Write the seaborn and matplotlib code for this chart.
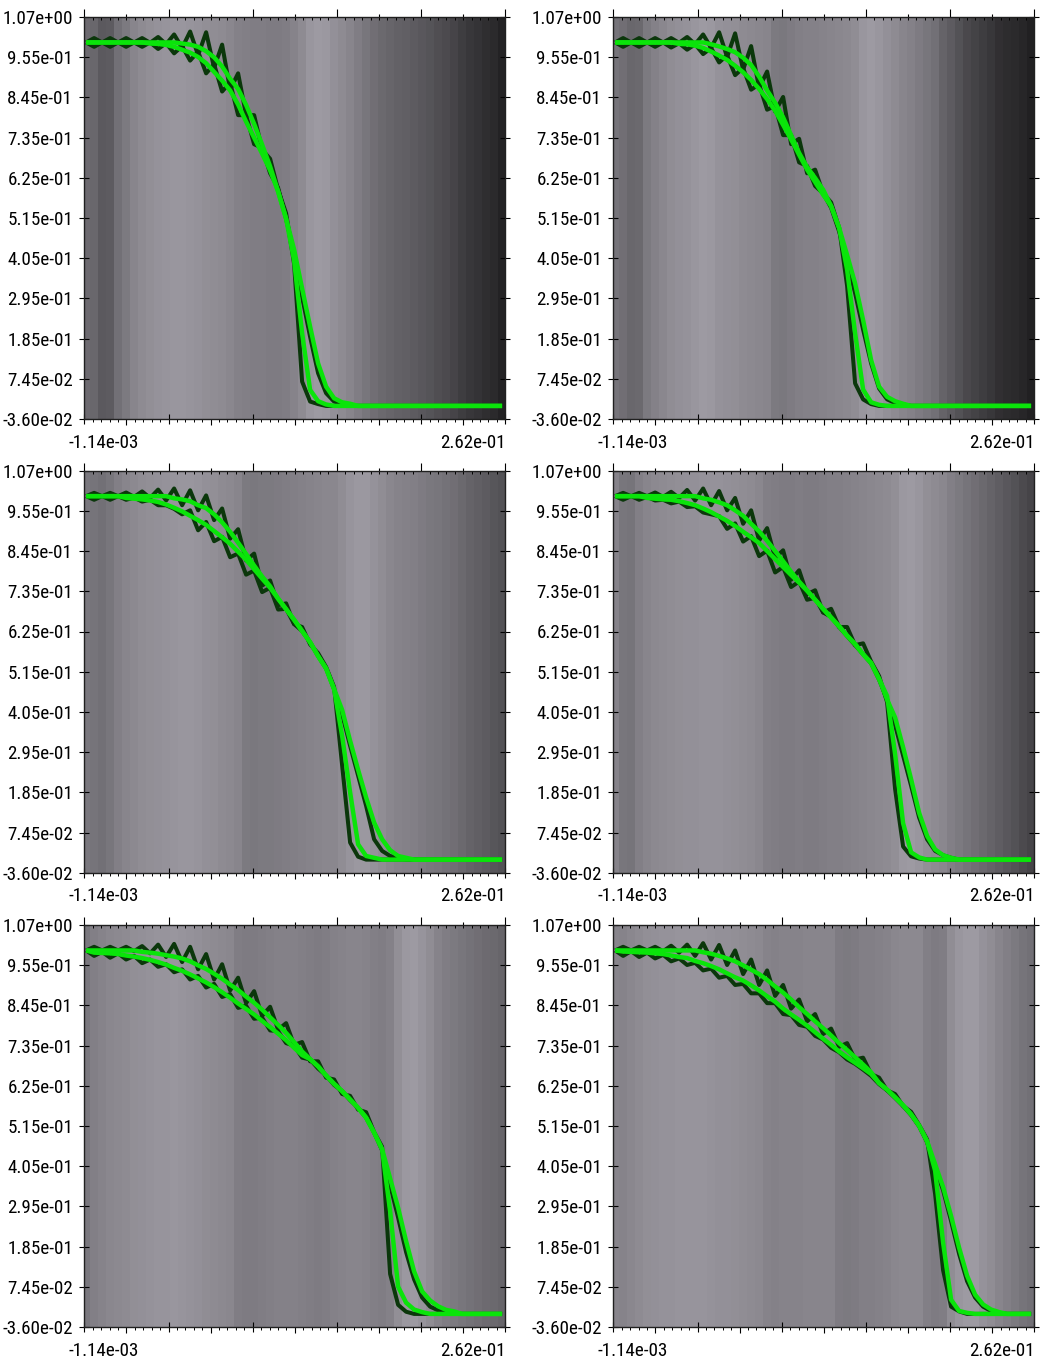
import os
import numpy as np
import pandas as pd
import matplotlib
matplotlib.use("Agg")
import matplotlib.pyplot as plt
import seaborn as sns
from matplotlib.colors import LinearSegmentedColormap
from matplotlib.transforms import ScaledTranslation
from matplotlib import font_manager
from matplotlib.font_manager import FontProperties
from matplotlib.textpath import TextPath

sns.set_theme(style="white")
plt.rcParams["font.family"] = ["Liberation Sans", "DejaVu Sans"]

# pick a narrow font file if one is installed
_files = font_manager.findSystemFonts()
_pref = ["LiberationSansNarrow-Regular", "RobotoCondensed-Regular", "Roboto_Condensed-Regular",
         "DejaVuSansCondensed", "NotoSans-CondensedRegular", "NotoSans-Condensed",
         "OpenSans-CondensedRegular", "OpenSans_Condensed-Regular", "LiberationSans-Regular"]
FP = None
for key in _pref:
    hits = [f for f in _files if os.path.splitext(os.path.basename(f))[0] == key]
    if hits:
        FP = FontProperties(fname=hits[0])
        break
if FP is None:
    FP = FontProperties(family=["Liberation Sans", "DejaVu Sans"])

# size the label font so that "9.55e-01" is ~61 px wide and digits <= 15 px tall
_ext = TextPath((0, 0), "9.55e-01", size=100, prop=FP).get_extents()
_s_w = 61 * 0.72 * 100 / _ext.width
_s_h = 15 * 0.72 * 100 / _ext.height
FS = min(_s_w, _s_h)
FP.set_size(FS)

# ---------------- data ----------------
X_MIN, X_MAX = -1.14e-03, 2.62e-01
Y_MIN, Y_MAX = -3.60e-02, 1.07e+00
Y_LABELS = ["-3.60e-02", "7.45e-02", "1.85e-01", "2.95e-01", "4.05e-01", "5.15e-01",
            "6.25e-01", "7.35e-01", "8.45e-01", "9.55e-01", "1.07e+00"]
X_LABELS = ["-1.14e-03", "2.62e-01"]

X_CELLS = [0.000, 0.005, 0.010, 0.015, 0.020, 0.025, 0.030, 0.035, 0.040, 0.045,
           0.050, 0.055, 0.060, 0.065, 0.070, 0.075, 0.080, 0.085, 0.090, 0.095,
           0.100, 0.105, 0.110, 0.115, 0.120, 0.125, 0.130, 0.135, 0.140, 0.145,
           0.150, 0.155, 0.160, 0.165, 0.170, 0.175, 0.180, 0.185, 0.190, 0.195,
           0.200, 0.205, 0.210, 0.215, 0.220, 0.225, 0.230, 0.235, 0.240, 0.245,
           0.250, 0.255, 0.260]

# ----- row 1, left -----
r1l_g1 = [1.000, 1.000, 1.000, 1.000, 1.000, 1.000, 1.000, 1.000, 1.000, 1.000,
          1.000, 1.000, 0.997, 0.994, 0.988, 0.976, 0.959, 0.934, 0.900, 0.872,
          0.828, 0.776, 0.719, 0.659, 0.590, 0.515, 0.400, 0.200, 0.044, 0.013,
          0.004, 0.0, 0.0, 0.0, 0.0, 0.0, 0.0, 0.0, 0.0, 0.0,
          0.0, 0.0, 0.0, 0.0, 0.0, 0.0, 0.0, 0.0, 0.0, 0.0,
          0.0, 0.0, 0.0]
r1l_g2 = [1.000, 1.000, 1.000, 1.000, 1.000, 1.000, 1.000, 1.000, 0.997, 0.996,
          0.993, 0.988, 0.980, 0.972, 0.960, 0.943, 0.919, 0.895, 0.868, 0.829,
          0.782, 0.738, 0.694, 0.648, 0.590, 0.515, 0.430, 0.323, 0.218, 0.117,
          0.053, 0.021, 0.010, 0.006, 0.0, 0.0, 0.0, 0.0, 0.0, 0.0,
          0.0, 0.0, 0.0, 0.0, 0.0, 0.0, 0.0, 0.0, 0.0, 0.0,
          0.0, 0.0, 0.0]
r1l_a = [1.000, 1.012, 1.000, 1.012, 1.000, 1.012, 1.000, 1.012, 0.999, 1.015,
         0.995, 1.022, 0.985, 1.030, 0.965, 1.028, 0.930, 0.994, 0.870, 0.915,
         0.800, 0.800, 0.705, 0.680, 0.595, 0.530, 0.390, 0.067, 0.012, 0.005,
         0.0, 0.0, 0.0, 0.0, 0.0, 0.0, 0.0, 0.0, 0.0, 0.0,
         0.0, 0.0, 0.0, 0.0, 0.0, 0.0, 0.0, 0.0, 0.0, 0.0,
         0.0, 0.0, 0.0]
r1l_b = [1.000, 0.988, 1.000, 0.988, 1.000, 0.988, 1.000, 0.988, 1.000, 0.982,
         0.998, 0.970, 0.990, 0.950, 0.975, 0.915, 0.940, 0.865, 0.890, 0.800,
         0.800, 0.720, 0.710, 0.640, 0.600, 0.515, 0.420, 0.300, 0.190, 0.090,
         0.035, 0.012, 0.006, 0.0, 0.0, 0.0, 0.0, 0.0, 0.0, 0.0,
         0.0, 0.0, 0.0, 0.0, 0.0, 0.0, 0.0, 0.0, 0.0, 0.0,
         0.0, 0.0, 0.0]
r1l_bg = [112, 108, 94, 96, 118, 128, 140, 146, 150, 154,
          156, 158, 158, 156, 154, 150, 148, 146, 142, 136,
          134, 132, 132, 130, 130, 132, 138, 146, 158, 162,
          160, 152, 146, 140, 132, 124, 116, 110, 106, 102,
          100, 96, 92, 88, 82, 78, 72, 64, 58, 54,
          48, 44, 36]

# ----- row 1, right -----
r1r_g1 = [1.000, 1.000, 1.000, 1.000, 1.000, 1.000, 1.000, 1.000, 1.000, 1.000,
          1.000, 1.000, 0.995, 0.989, 0.982, 0.973, 0.958, 0.938, 0.906, 0.868,
          0.834, 0.794, 0.745, 0.696, 0.657, 0.627, 0.595, 0.550, 0.490, 0.375,
          0.200, 0.045, 0.010, 0.003, 0.0, 0.0, 0.0, 0.0, 0.0, 0.0,
          0.0, 0.0, 0.0, 0.0, 0.0, 0.0, 0.0, 0.0, 0.0, 0.0,
          0.0, 0.0, 0.0]
r1r_g2 = [1.000, 1.000, 1.000, 1.000, 1.000, 1.000, 1.000, 1.000, 0.996, 0.995,
          0.991, 0.985, 0.975, 0.964, 0.952, 0.936, 0.918, 0.897, 0.872, 0.844,
          0.812, 0.773, 0.733, 0.691, 0.650, 0.616, 0.581, 0.550, 0.490, 0.415,
          0.337, 0.236, 0.126, 0.053, 0.025, 0.013, 0.006, 0.0, 0.0, 0.0,
          0.0, 0.0, 0.0, 0.0, 0.0, 0.0, 0.0, 0.0, 0.0, 0.0,
          0.0, 0.0, 0.0]
r1r_a = [1.000, 1.012, 1.000, 1.012, 1.000, 1.012, 1.000, 1.012, 0.999, 1.015,
         0.995, 1.022, 0.985, 1.028, 0.960, 1.025, 0.925, 0.990, 0.875, 0.920,
         0.810, 0.850, 0.720, 0.735, 0.640, 0.650, 0.585, 0.560, 0.490, 0.330,
         0.062, 0.018, 0.005, 0.0, 0.0, 0.0, 0.0, 0.0, 0.0, 0.0,
         0.0, 0.0, 0.0, 0.0, 0.0, 0.0, 0.0, 0.0, 0.0, 0.0,
         0.0, 0.0, 0.0]
r1r_b = [1.000, 0.988, 1.000, 0.988, 1.000, 0.988, 1.000, 0.986, 0.998, 0.980,
         0.995, 0.968, 0.985, 0.945, 0.965, 0.910, 0.930, 0.870, 0.885, 0.815,
         0.825, 0.745, 0.745, 0.670, 0.660, 0.605, 0.585, 0.545, 0.480, 0.400,
         0.310, 0.210, 0.117, 0.048, 0.018, 0.008, 0.004, 0.0, 0.0, 0.0,
         0.0, 0.0, 0.0, 0.0, 0.0, 0.0, 0.0, 0.0, 0.0, 0.0,
         0.0, 0.0, 0.0]
r1r_bg = [122, 116, 108, 110, 128, 136, 142, 148, 152, 154,
          158, 162, 160, 154, 152, 150, 146, 144, 142, 140,
          128, 126, 130, 134, 136, 136, 138, 140, 142, 144,
          148, 158, 162, 158, 152, 146, 140, 136, 130, 124,
          118, 104, 96, 86, 76, 70, 64, 58, 50, 46,
          44, 40, 34]

# ----- row 2, left -----
r2l_g1 = [1.000, 1.000, 1.000, 1.000, 1.000, 1.000, 1.000, 1.000, 1.000, 1.000,
          1.000, 0.994, 0.991, 0.986, 0.975, 0.967, 0.950, 0.928, 0.902, 0.872,
          0.841, 0.809, 0.779, 0.752, 0.718, 0.689, 0.660, 0.629, 0.598, 0.560,
          0.526, 0.469, 0.341, 0.185, 0.042, 0.010, 0.005, 0.0, 0.0, 0.0,
          0.0, 0.0, 0.0, 0.0, 0.0, 0.0, 0.0, 0.0, 0.0, 0.0,
          0.0, 0.0, 0.0]
r2l_g2 = [1.000, 1.000, 1.000, 1.000, 1.000, 0.995, 0.993, 0.991, 0.988, 0.984,
          0.977, 0.968, 0.958, 0.946, 0.934, 0.921, 0.904, 0.887, 0.869, 0.847,
          0.825, 0.799, 0.773, 0.748, 0.718, 0.689, 0.660, 0.629, 0.598, 0.560,
          0.526, 0.469, 0.412, 0.327, 0.247, 0.171, 0.102, 0.056, 0.026, 0.010,
          0.005, 0.0, 0.0, 0.0, 0.0, 0.0, 0.0, 0.0, 0.0, 0.0,
          0.0, 0.0, 0.0]
r2l_a = [1.000, 1.009, 1.000, 1.009, 1.000, 1.010, 0.998, 1.013, 0.995, 1.018,
         0.988, 1.021, 0.975, 1.016, 0.961, 1.002, 0.934, 0.966, 0.883, 0.909,
         0.823, 0.842, 0.754, 0.768, 0.700, 0.705, 0.648, 0.640, 0.592, 0.568,
         0.530, 0.475, 0.260, 0.047, 0.008, 0.0, 0.0, 0.0, 0.0, 0.0,
         0.0, 0.0, 0.0, 0.0, 0.0, 0.0, 0.0, 0.0, 0.0, 0.0,
         0.0, 0.0, 0.0]
r2l_b = [1.000, 0.990, 1.000, 0.990, 1.000, 0.990, 0.996, 0.985, 0.990, 0.975,
         0.975, 0.965, 0.950, 0.961, 0.906, 0.929, 0.876, 0.888, 0.832, 0.842,
         0.784, 0.795, 0.736, 0.748, 0.688, 0.690, 0.648, 0.629, 0.598, 0.560,
         0.526, 0.469, 0.400, 0.313, 0.231, 0.148, 0.056, 0.024, 0.010, 0.005,
         0.0, 0.0, 0.0, 0.0, 0.0, 0.0, 0.0, 0.0, 0.0, 0.0,
         0.0, 0.0, 0.0]
r2l_bg = [126, 122, 118, 124, 134, 140, 144, 148, 150, 152,
          154, 156, 158, 158, 156, 152, 150, 146, 144, 140,
          128, 126, 128, 128, 130, 132, 134, 136, 138, 140,
          142, 142, 148, 156, 160, 160, 154, 148, 142, 138,
          136, 134, 130, 126, 124, 120, 116, 110, 104, 100,
          96, 90, 86]

# ----- row 2, right -----
r2r_g1 = [1.000, 1.000, 1.000, 1.000, 1.000, 1.000, 1.000, 1.000, 1.000, 1.000,
          1.000, 0.994, 0.990, 0.983, 0.975, 0.961, 0.946, 0.924, 0.903, 0.877,
          0.849, 0.821, 0.792, 0.765, 0.740, 0.715, 0.690, 0.666, 0.642, 0.616,
          0.593, 0.565, 0.541, 0.497, 0.450, 0.290, 0.100, 0.020, 0.006, 0.0,
          0.0, 0.0, 0.0, 0.0, 0.0, 0.0, 0.0, 0.0, 0.0, 0.0,
          0.0, 0.0, 0.0]
r2r_g2 = [1.000, 1.000, 1.000, 1.000, 0.995, 0.993, 0.991, 0.990, 0.986, 0.981,
          0.975, 0.966, 0.956, 0.944, 0.932, 0.918, 0.902, 0.887, 0.871, 0.849,
          0.827, 0.805, 0.783, 0.762, 0.740, 0.715, 0.690, 0.666, 0.642, 0.616,
          0.593, 0.565, 0.541, 0.497, 0.440, 0.391, 0.309, 0.221, 0.129, 0.065,
          0.028, 0.012, 0.005, 0.0, 0.0, 0.0, 0.0, 0.0, 0.0, 0.0,
          0.0, 0.0, 0.0]
r2r_a = [1.000, 1.009, 1.000, 1.009, 1.000, 1.010, 0.998, 1.012, 0.995, 1.017,
         0.988, 1.021, 0.975, 1.014, 0.961, 0.995, 0.924, 0.961, 0.878, 0.912,
         0.830, 0.851, 0.770, 0.796, 0.730, 0.741, 0.680, 0.690, 0.640, 0.640,
         0.590, 0.595, 0.545, 0.505, 0.433, 0.194, 0.036, 0.009, 0.003, 0.0,
         0.0, 0.0, 0.0, 0.0, 0.0, 0.0, 0.0, 0.0, 0.0, 0.0,
         0.0, 0.0, 0.0]
r2r_b = [1.000, 0.990, 1.000, 0.990, 0.998, 0.988, 0.990, 0.980, 0.985, 0.970,
         0.972, 0.955, 0.950, 0.945, 0.910, 0.925, 0.875, 0.890, 0.835, 0.850,
         0.790, 0.805, 0.750, 0.765, 0.715, 0.720, 0.680, 0.668, 0.640, 0.615,
         0.590, 0.565, 0.540, 0.495, 0.440, 0.370, 0.286, 0.203, 0.116, 0.056,
         0.024, 0.012, 0.005, 0.0, 0.0, 0.0, 0.0, 0.0, 0.0, 0.0,
         0.0, 0.0, 0.0]
r2r_bg = [138, 124, 122, 134, 140, 144, 146, 148, 150, 152,
          152, 154, 154, 154, 152, 150, 148, 146, 142, 134,
          132, 130, 130, 132, 130, 130, 132, 134, 134, 136,
          138, 140, 142, 144, 146, 150, 160, 162, 158, 150,
          146, 142, 134, 128, 122, 116, 110, 104, 98, 92,
          86, 78, 72]

# ----- row 3, left -----
r3l_g1 = [1.000, 1.000, 1.000, 1.000, 1.000, 1.000, 1.000, 0.996, 0.994, 0.991,
          0.987, 0.983, 0.978, 0.970, 0.959, 0.949, 0.936, 0.922, 0.906, 0.891,
          0.873, 0.856, 0.837, 0.816, 0.795, 0.773, 0.748, 0.722, 0.701, 0.681,
          0.656, 0.633, 0.613, 0.590, 0.567, 0.540, 0.499, 0.453, 0.283, 0.075,
          0.031, 0.012, 0.005, 0.0, 0.0, 0.0, 0.0, 0.0, 0.0, 0.0,
          0.0, 0.0, 0.0]
r3l_g2 = [1.000, 0.994, 0.993, 0.992, 0.990, 0.986, 0.983, 0.979, 0.974, 0.968,
          0.961, 0.952, 0.944, 0.934, 0.923, 0.912, 0.899, 0.885, 0.870, 0.854,
          0.839, 0.824, 0.806, 0.789, 0.771, 0.753, 0.732, 0.712, 0.701, 0.681,
          0.656, 0.633, 0.613, 0.590, 0.567, 0.540, 0.499, 0.453, 0.373, 0.292,
          0.200, 0.117, 0.062, 0.037, 0.021, 0.011, 0.007, 0.0, 0.0, 0.0,
          0.0, 0.0, 0.0]
r3l_a = [1.000, 1.010, 1.000, 1.010, 1.000, 1.010, 0.998, 1.012, 0.992, 1.016,
         0.982, 1.018, 0.968, 1.010, 0.948, 0.990, 0.920, 0.962, 0.890, 0.925,
         0.855, 0.888, 0.820, 0.845, 0.782, 0.800, 0.740, 0.748, 0.695, 0.695,
         0.650, 0.645, 0.605, 0.600, 0.562, 0.555, 0.500, 0.460, 0.110, 0.025,
         0.006, 0.0, 0.0, 0.0, 0.0, 0.0, 0.0, 0.0, 0.0, 0.0,
         0.0, 0.0, 0.0]
r3l_b = [1.000, 0.985, 0.996, 0.980, 0.992, 0.975, 0.985, 0.965, 0.975, 0.955,
         0.962, 0.940, 0.948, 0.920, 0.930, 0.898, 0.908, 0.872, 0.880, 0.842,
         0.848, 0.812, 0.815, 0.780, 0.778, 0.745, 0.738, 0.705, 0.700, 0.675,
         0.656, 0.630, 0.613, 0.588, 0.567, 0.540, 0.499, 0.450, 0.355, 0.265,
         0.170, 0.095, 0.045, 0.020, 0.010, 0.005, 0.0, 0.0, 0.0, 0.0,
         0.0, 0.0, 0.0]
r3l_bg = [126, 134, 138, 142, 144, 146, 150, 152, 154, 156,
          156, 158, 156, 154, 152, 148, 146, 144, 142, 132,
          130, 130, 132, 134, 136, 136, 136, 134, 132, 130,
          132, 136, 138, 140, 140, 138, 134, 132, 136, 150,
          160, 162, 156, 148, 138, 132, 128, 124, 120, 116,
          112, 110, 106]

# ----- row 3, right -----
r3r_g1 = [1.000, 1.000, 1.000, 1.000, 1.000, 1.000, 1.000, 1.000, 1.000, 1.000,
          1.000, 0.995, 0.991, 0.985, 0.978, 0.970, 0.959, 0.947, 0.935, 0.919,
          0.901, 0.884, 0.865, 0.844, 0.825, 0.805, 0.786, 0.766, 0.745, 0.726,
          0.706, 0.686, 0.665, 0.635, 0.617, 0.596, 0.574, 0.549, 0.518, 0.475,
          0.394, 0.196, 0.039, 0.008, 0.003, 0.0, 0.0, 0.0, 0.0, 0.0,
          0.0, 0.0, 0.0]
r3r_g2 = [1.000, 0.997, 0.996, 0.995, 0.994, 0.992, 0.990, 0.986, 0.982, 0.979,
          0.971, 0.965, 0.957, 0.948, 0.937, 0.926, 0.917, 0.904, 0.890, 0.874,
          0.859, 0.840, 0.824, 0.809, 0.793, 0.775, 0.757, 0.740, 0.722, 0.706,
          0.691, 0.676, 0.660, 0.635, 0.617, 0.596, 0.574, 0.549, 0.518, 0.475,
          0.412, 0.349, 0.269, 0.182, 0.105, 0.053, 0.026, 0.012, 0.005, 0.0,
          0.0, 0.0, 0.0]
r3r_a = [1.000, 1.010, 1.000, 1.010, 1.000, 1.010, 0.998, 1.013, 0.994, 1.016,
         0.985, 1.020, 0.975, 1.015, 0.960, 1.000, 0.935, 0.975, 0.905, 0.945,
         0.875, 0.905, 0.840, 0.865, 0.805, 0.825, 0.770, 0.785, 0.735, 0.745,
         0.700, 0.705, 0.660, 0.650, 0.615, 0.605, 0.572, 0.556, 0.520, 0.480,
         0.330, 0.120, 0.020, 0.007, 0.0, 0.0, 0.0, 0.0, 0.0, 0.0,
         0.0, 0.0, 0.0]
r3r_b = [1.000, 0.985, 0.998, 0.982, 0.994, 0.978, 0.988, 0.970, 0.978, 0.960,
         0.966, 0.945, 0.950, 0.925, 0.930, 0.905, 0.908, 0.882, 0.882, 0.855,
         0.855, 0.825, 0.822, 0.795, 0.790, 0.765, 0.755, 0.732, 0.720, 0.700,
         0.688, 0.672, 0.655, 0.632, 0.615, 0.594, 0.572, 0.547, 0.516, 0.472,
         0.405, 0.340, 0.255, 0.165, 0.090, 0.045, 0.020, 0.008, 0.003, 0.0,
         0.0, 0.0, 0.0]
r3r_bg = [140, 138, 142, 146, 150, 152, 154, 154, 156, 156,
          156, 156, 154, 152, 152, 150, 148, 146, 144, 138,
          136, 138, 138, 138, 140, 140, 140, 140, 130, 128,
          130, 134, 134, 136, 138, 142, 144, 144, 144, 134,
          130, 132, 148, 158, 162, 162, 154, 148, 140, 134,
          128, 122, 118]

PANELS = [
    (r1l_g1, r1l_g2, r1l_a, r1l_b, r1l_bg),
    (r1r_g1, r1r_g2, r1r_a, r1r_b, r1r_bg),
    (r2l_g1, r2l_g2, r2l_a, r2l_b, r2l_bg),
    (r2r_g1, r2r_g2, r2r_a, r2r_b, r2r_bg),
    (r3l_g1, r3l_g2, r3l_a, r3l_b, r3l_bg),
    (r3r_g1, r3r_g2, r3r_a, r3r_b, r3r_bg),
]
for p in PANELS:
    for arr in p:
        assert len(arr) == len(X_CELLS), len(arr)

# ---------------- style ----------------
DARK = "#0b370b"
BRIGHT = "#0ae40a"
BG_CMAP = LinearSegmentedColormap.from_list("bg", [(0, 0, 0), (0.97, 0.95, 1.0)])

W, H = 1058, 1361
fig = plt.figure(figsize=(W / 100, H / 100), dpi=100)
fig.patch.set_facecolor("white")

LEFTS = [84.3, 613.3]
TOPS = [17.0, 470.7, 925.0]
AW, AH = 421.0, 402.0

xc = np.asarray(X_CELLS)
edges = np.concatenate([[xc[0] - 0.0025], (xc[:-1] + xc[1:]) / 2, [xc[-1] + 0.0025]])

x_major = np.linspace(X_MIN, X_MAX, 6)
x_mid = np.linspace(X_MIN, X_MAX, 11)[1::2]
x_minor = np.linspace(X_MIN, X_MAX, 51)
y_major = np.linspace(Y_MIN, Y_MAX, 11)

for k, (g1, g2, a, b, bg) in enumerate(PANELS):
    r, c = divmod(k, 2)
    ax = fig.add_axes([LEFTS[c] / W, 1 - (TOPS[r] + AH) / H, AW / W, AH / H])
    ax.pcolormesh(edges, [Y_MIN, Y_MAX], np.asarray([bg], float), cmap=BG_CMAP,
                  vmin=0, vmax=255, shading="flat", zorder=0)
    for yv, col, lw, z in [(a, DARK, 2.9, 2), (b, DARK, 2.9, 2),
                           (g1, BRIGHT, 3.2, 3), (g2, BRIGHT, 3.2, 3)]:
        df = pd.DataFrame({"x": X_CELLS, "y": yv})
        sns.lineplot(data=df, x="x", y="y", ax=ax, color=col, linewidth=lw,
                     estimator=None, sort=False, legend=False, zorder=z)
    for ln in ax.get_lines():
        ln.set_solid_capstyle("butt")
        ln.set_solid_joinstyle("round")
    ax.set_xlim(X_MIN, X_MAX)
    ax.set_ylim(Y_MIN, Y_MAX)
    ax.set_xlabel("")
    ax.set_ylabel("")
    for s in ax.spines.values():
        s.set_visible(True)
        s.set_color("#202020")
        s.set_linewidth(1.0)

    # y ticks (left + right)
    ax.set_yticks(y_major)
    ax.set_yticklabels(Y_LABELS)
    for t in ax.get_yticklabels():
        t.set_fontproperties(FP)
    ax.tick_params(axis="y", which="major", direction="inout", length=7, width=0.8,
                   left=True, right=True, labelleft=True, labelright=False,
                   pad=4.5, colors="black")

    # x ticks bottom
    ax.set_xticks(x_major)
    ax.set_xticklabels([X_LABELS[0], "", "", "", "", X_LABELS[1]])
    ax.set_xticks(x_minor, minor=True)
    ax.tick_params(axis="x", which="major", direction="inout", length=7, width=0.8,
                   bottom=True, top=False, pad=7, colors="black")
    ax.tick_params(axis="x", which="minor", direction="out", length=2.2, width=0.7,
                   bottom=True, top=False, colors="black")
    labs = ax.get_xticklabels()
    for t in labs:
        t.set_fontproperties(FP)
    labs[0].set_ha("left")
    labs[0].set_transform(labs[0].get_transform() +
                          ScaledTranslation(-0.16, 0, fig.dpi_scale_trans))
    labs[-1].set_ha("right")

    # medium ticks bottom
    sb = ax.secondary_xaxis("bottom")
    sb.set_xticks(x_mid)
    sb.set_xticklabels([])
    sb.tick_params(direction="out", length=4, width=0.8, colors="black")
    sb.spines["bottom"].set_visible(False)

    # top ticks
    st = ax.secondary_xaxis("top")
    st.set_xticks(x_major)
    st.set_xticklabels([])
    st.set_xticks(x_minor, minor=True)
    st.tick_params(which="major", direction="out", length=6, width=0.8, colors="black")
    st.tick_params(which="minor", direction="in", length=2, width=0.7, colors="black")
    st.spines["top"].set_visible(False)
    st2 = ax.secondary_xaxis("top")
    st2.set_xticks(x_mid)
    st2.set_xticklabels([])
    st2.tick_params(direction="out", length=2.5, width=0.8, colors="black")
    st2.spines["top"].set_visible(False)

fig.savefig("out.png", dpi=100, facecolor="white")
